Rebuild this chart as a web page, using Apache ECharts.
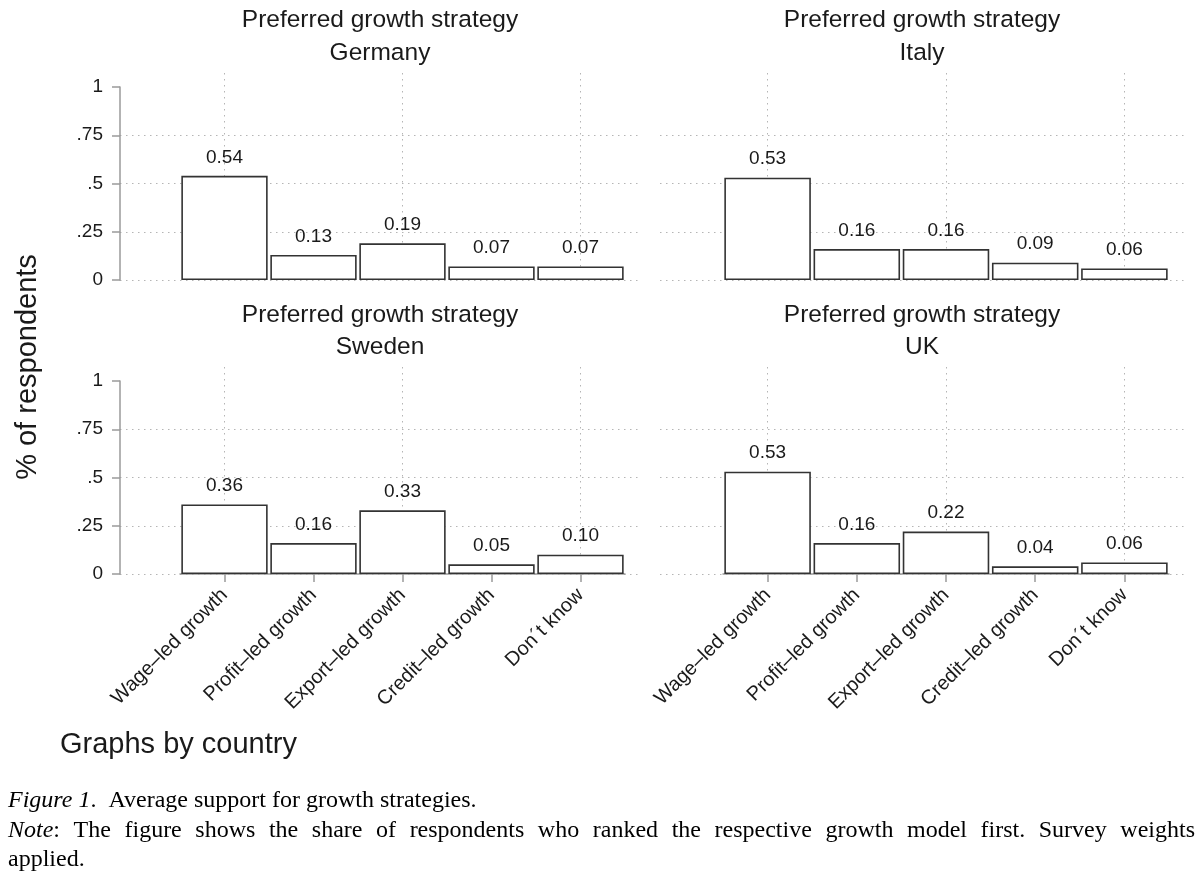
<!DOCTYPE html>
<html><head><meta charset="utf-8">
<script src="https://cdn.jsdelivr.net/npm/echarts@6/dist/echarts.min.js"></script>
<style>html,body{margin:0;padding:0;background:#fff}#c{width:1200px;height:888px}</style>
</head><body><div id="c"></div>
<script>
// ---- data ----
const categories = ['Wage–led growth', 'Profit–led growth', 'Export–led growth', 'Credit–led growth', 'Don´t know'];
const countries = ['Germany', 'Italy', 'Sweden', 'UK'];
const germany = [0.54, 0.13, 0.19, 0.07, 0.07];
const italy = [0.53, 0.16, 0.16, 0.09, 0.06];
const sweden = [0.36, 0.16, 0.33, 0.05, 0.10];
const uk = [0.53, 0.16, 0.22, 0.04, 0.06];
const yTicks = [0, 0.25, 0.5, 0.75, 1];
const yTickLabels = ['0', '.25', '.5', '.75', '1'];
const panelTitle = 'Preferred growth strategy';
const yTitle = '% of respondents';
const noteTitle = 'Graphs by country';
const captionFig = 'Figure 1';
const captionText = '.  Average support for growth strategies.';
const noteLine2 = 'The figure shows the share of respondents who ranked the respective growth model first. Survey weights';
const noteLine3 = 'applied.';

// ---- layout ----
const seriesData = [germany, italy, sweden, uk];
const cols = [
  { regionLeft: 120, regionRight: 640, barLeft: 180, barRight: 625, showY: true },
  { regionLeft: 660, regionRight: 1184, barLeft: 723, barRight: 1169, showY: false }
];
const rows = [
  { top: 87, bottom: 280, showX: false, t1: 20, t2: 53 },
  { top: 381, bottom: 574, showX: true, t1: 315, t2: 347 }
];
const SANS = '"Liberation Sans", Arial, Helvetica, sans-serif';
const SERIF = '"Liberation Serif", "Times New Roman", serif';
const TXT = '#1a1a1a';
const AX = '#9a9a9a';
const DOT = { type: [1.5, 4.5], color: '#b5b5b5', width: 1 };

const grid = [], xAxis = [], yAxis = [], series = [], graphic = [];

seriesData.forEach((data, p) => {
  const c = cols[p % 2], r = rows[Math.floor(p / 2)];
  const gBase = grid.length;
  // background grid: horizontal dotted lines + y axis
  grid.push({ left: c.regionLeft, width: c.regionRight - c.regionLeft, top: r.top, height: r.bottom - r.top, containLabel: false });
  xAxis.push({ type: 'value', gridIndex: gBase, show: false, min: 0, max: 1 });
  yAxis.push({
    type: 'value', gridIndex: gBase, min: 0, max: 1, interval: 0.25,
    offset: c.regionLeft - 118,
    axisLine: { show: c.showY, lineStyle: { color: AX, width: 1.5 } },
    axisTick: { show: c.showY, length: 8, lineStyle: { color: AX, width: 1.5 } },
    axisLabel: {
      show: c.showY, margin: 15, fontSize: 19, color: TXT, fontFamily: SANS,
      formatter: v => { const i = yTicks.indexOf(+v.toFixed(2)); return i >= 0 ? yTickLabels[i] : ''; }
    },
    splitLine: { show: true, showMaxLine: false, lineStyle: DOT }
  });
  // vertical dotted lines at category centres
  grid.push({ left: c.barLeft, width: c.barRight - c.barLeft, top: r.top - 14, height: r.bottom - r.top + 14 });
  xAxis.push({
    type: 'category', gridIndex: gBase + 1, data: categories,
    axisLine: { show: false }, axisTick: { show: false }, axisLabel: { show: false },
    splitLine: { show: true, alignWithLabel: true, lineStyle: DOT }
  });
  yAxis.push({ type: 'value', gridIndex: gBase + 1, show: false, min: 0, max: 1, splitLine: { show: false } });
  // bars
  grid.push({ left: c.barLeft, width: c.barRight - c.barLeft, top: r.top, height: r.bottom - r.top });
  xAxis.push({
    type: 'category', gridIndex: gBase + 2, data: categories,
    axisLine: { show: r.showX, lineStyle: { color: AX, width: 1.5 } },
    axisTick: { show: r.showX, alignWithLabel: true, length: 8, lineStyle: { color: AX, width: 1.5 } },
    axisLabel: { show: r.showX, rotate: 45, margin: 18, fontSize: 20, color: TXT, fontFamily: SANS, interval: 0 },
    splitLine: { show: false }
  });
  yAxis.push({ type: 'value', gridIndex: gBase + 2, show: false, min: 0, max: 1, splitLine: { show: false } });
  series.push({
    type: 'bar', xAxisIndex: gBase + 2, yAxisIndex: gBase + 2, data: data,
    barCategoryGap: '3%', silent: true,
    itemStyle: { color: '#fff', borderColor: '#333', borderWidth: 1.6 },
    label: { show: true, position: 'top', distance: 9, fontSize: 19, color: TXT, fontFamily: SANS,
      formatter: d => d.value.toFixed(2) }
  });
  // panel titles
  const cx = (c.regionLeft + c.regionRight) / 2;
  graphic.push({ type: 'text', x: cx, y: r.t1, silent: true,
    style: { text: panelTitle, font: '24.5px ' + SANS, fill: TXT, align: 'center', verticalAlign: 'middle' } });
  graphic.push({ type: 'text', x: cx, y: r.t2, silent: true,
    style: { text: countries[p], font: '24.5px ' + SANS, fill: TXT, align: 'center', verticalAlign: 'middle' } });
});

// y title
graphic.push({ type: 'text', x: 28, y: 367, rotation: Math.PI / 2, silent: true,
  style: { text: yTitle, font: '29px ' + SANS, fill: TXT, align: 'center', verticalAlign: 'middle' } });
graphic.push({ type: 'text', x: 60, y: 745, silent: true,
  style: { text: noteTitle, font: '29px ' + SANS, fill: TXT, align: 'left', verticalAlign: 'middle' } });

// caption
const CF = '24px ' + SERIF, CFI = 'italic 24px ' + SERIF;
graphic.push({ type: 'text', x: 8, y: 813, silent: true,
  style: { text: '{i|' + captionFig + '}' + captionText, font: CF, fill: '#000', verticalAlign: 'bottom',
    rich: { i: { font: CFI, fill: '#000' } } } });
// justified line 2
const cv = document.createElement('canvas').getContext('2d');
const words = [{ t: 'Note', f: CFI, tail: ':' }].concat(noteLine2.split(' ').map(w => ({ t: w, f: CF })));
words.forEach(w => {
  cv.font = w.f; w.w = cv.measureText(w.t).width;
  if (w.tail) { cv.font = CF; w.w += cv.measureText(w.tail).width; }
});
const lineW = 1187;
const total = words.reduce((s, w) => s + w.w, 0);
const gap = (lineW - total) / (words.length - 1);
let xx = 8;
words.forEach(w => {
  const txt = w.tail ? '{i|' + w.t + '}' + w.tail : w.t;
  graphic.push({ type: 'text', x: xx, y: 843, silent: true,
    style: { text: txt, font: CF, fill: '#000', verticalAlign: 'bottom', rich: { i: { font: CFI, fill: '#000' } } } });
  xx += w.w + gap;
});
graphic.push({ type: 'text', x: 8, y: 872, silent: true,
  style: { text: noteLine3, font: CF, fill: '#000', verticalAlign: 'bottom' } });

const chart = echarts.init(document.getElementById('c'), null, { renderer: 'canvas' });
chart.setOption({
  backgroundColor: '#fff', animation: false,
  grid, xAxis, yAxis, series, graphic
});
</script></body></html>
